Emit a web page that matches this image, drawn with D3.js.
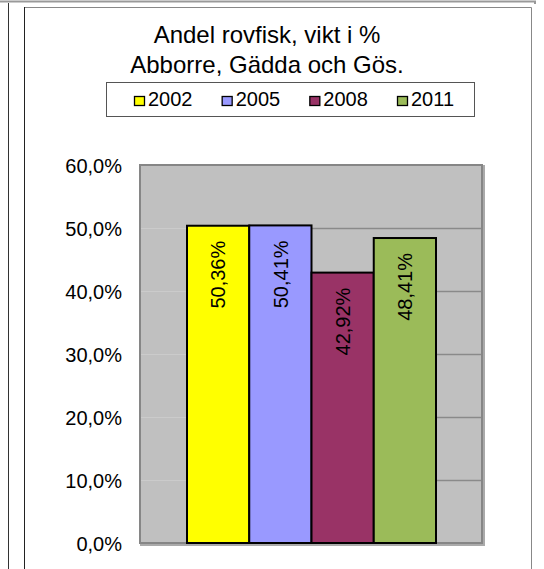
<!DOCTYPE html>
<html>
<head>
<meta charset="utf-8">
<script src="https://cdn.jsdelivr.net/npm/d3@7"></script>
<style>
  body { margin: 0; background: #fff; }
  svg { display: block; font-family: Arial, "Liberation Sans", sans-serif; }
</style>
</head>
<body>
<div id="chart"></div>
<script>
// data
var years = ["2002", "2005", "2008", "2011"];
var values = [50.36, 50.41, 42.92, 48.41];
var labels = ["50,36%", "50,41%", "42,92%", "48,41%"];
var colors = ["#ffff00", "#9999ff", "#993366", "#9bbb59"];
var yTicks = [0, 10, 20, 30, 40, 50, 60];
var titleLines = ["Andel rovfisk, vikt i %", "Abborre, Gädda och Gös."];

var width = 544,
    height = 569,
    plot = { left: 140, top: 165, right: 482, bottom: 543 };

var svg = d3.select("#chart").append("svg")
    .attr("width", width)
    .attr("height", height);

// page lines
svg.append("path")
    .attr("d", "M0,1.5H535V4")
    .attr("fill", "none")
    .attr("stroke", "#999")
    .attr("stroke-width", 2);
svg.append("line")
    .attr("x1", 8.5).attr("x2", 8.5)
    .attr("y1", 3).attr("y2", height)
    .attr("stroke", "#333");

// chart frame
svg.append("path")
    .attr("d", "M24.5," + height + "V7.5H531.5V" + height)
    .attr("fill", "none")
    .attr("stroke", "#888");
svg.append("line")
    .attr("x1", 24.5).attr("x2", 24.5)
    .attr("y1", 7).attr("y2", height)
    .attr("stroke", "#222");

// title
svg.selectAll(".title")
    .data(titleLines)
    .enter()
    .append("text")
    .attr("class", "title")
    .attr("x", 267)
    .attr("y", function (d, i) { return 43 + i * 30; })
    .attr("text-anchor", "middle")
    .style("font-size", "24px")
    .attr("fill", "#000")
    .text(function (d) { return d; });

// legend
svg.append("rect")
    .attr("x", 106.5).attr("y", 82.5)
    .attr("width", 368).attr("height", 34)
    .attr("fill", "#fff")
    .attr("stroke", "#555");

var lx = d3.scalePoint().domain(years).range([134, 397]);

var leg = svg.selectAll(".legend")
    .data(years)
    .enter()
    .append("g")
    .attr("class", "legend")
    .attr("transform", function (d) { return "translate(" + lx(d) + ",0)"; });

leg.append("rect")
    .attr("x", 0.5).attr("y", 96.5)
    .attr("width", 10).attr("height", 9)
    .attr("fill", function (d, i) { return colors[i]; })
    .attr("stroke", "#000")
    .attr("stroke-width", 1.3);

leg.append("text")
    .attr("x", 14)
    .attr("y", 106)
    .style("font-size", "20px")
    .text(function (d) { return d; });

// scales
var x = d3.scaleBand().domain(years).range([187, 436]).paddingInner(0);
var y = d3.scaleLinear().domain([0, 60]).range([plot.bottom, plot.top]);

// plot area
svg.append("rect")
    .attr("x", plot.left + 1).attr("y", plot.top + 1)
    .attr("width", plot.right - plot.left + 1)
    .attr("height", plot.bottom - plot.top + 1)
    .attr("fill", "none")
    .attr("stroke", "#aaa")
    .attr("stroke-width", 2);
svg.append("rect")
    .attr("x", plot.left).attr("y", plot.top)
    .attr("width", plot.right - plot.left)
    .attr("height", plot.bottom - plot.top)
    .attr("fill", "#c0c0c0")
    .attr("stroke", "#868686")
    .attr("stroke-width", 2);

// gridlines
var grid = svg.selectAll(".grid")
    .data(yTicks.filter(function (d) { return d > 0 && d < 60; }))
    .enter()
    .append("g")
    .attr("class", "grid");

grid.append("line")
    .attr("x1", plot.left + 1).attr("x2", x.range()[0])
    .attr("y1", function (d) { return Math.round(y(d)) + 0.5; })
    .attr("y2", function (d) { return Math.round(y(d)) + 0.5; })
    .attr("stroke", "#cbcbcb");

grid.append("line")
    .attr("x1", x.range()[0]).attr("x2", plot.right - 1)
    .attr("y1", function (d) { return Math.round(y(d)) + 0.5; })
    .attr("y2", function (d) { return Math.round(y(d)) + 0.5; })
    .attr("stroke", "#8a8a8a")
    .attr("stroke-width", 1.3);

// y axis
var yAxis = d3.axisLeft(y)
    .tickValues(yTicks)
    .tickSize(0)
    .tickPadding(18)
    .tickFormat(function (d) { return d.toFixed(1).replace(".", ",") + "%"; });

svg.append("g")
    .attr("transform", "translate(" + plot.left + ",0)")
    .call(yAxis)
    .call(function (g) { g.select(".domain").remove(); })
    .selectAll("text")
    .style("font-family", "Arial, 'Liberation Sans', sans-serif")
    .style("font-size", "20px")
    .attr("fill", "#000")
    .attr("dy", "0.36em");

// bars
var bars = svg.selectAll(".bar")
    .data(values)
    .enter()
    .append("g")
    .attr("class", "bar");

bars.append("rect")
    .attr("x", function (d, i) { return x(years[i]); })
    .attr("y", function (d) { return y(d); })
    .attr("width", x.bandwidth())
    .attr("height", function (d) { return y(0) - y(d); })
    .attr("fill", function (d, i) { return colors[i]; })
    .attr("stroke", "#000")
    .attr("stroke-width", 2);

// value labels
bars.append("text")
    .attr("transform", function (d, i) {
        return "translate(" + (x(years[i]) + x.bandwidth() / 2) + "," + (y(d) + 15) + ") rotate(-90)";
    })
    .attr("text-anchor", "end")
    .attr("dy", "0.36em")
    .style("font-size", "20px")
    .attr("fill", "#000")
    .text(function (d, i) { return labels[i]; });
</script>
</body>
</html>
